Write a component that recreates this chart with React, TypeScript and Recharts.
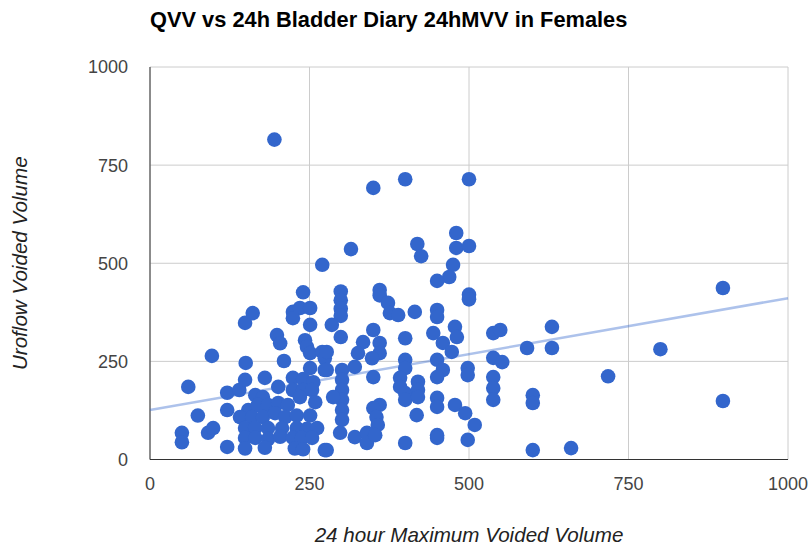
import {
  ScatterChart,
  Scatter,
  XAxis,
  YAxis,
  CartesianGrid
} from "recharts";

// 24h max voided volume (bladder diary) per patient
const mvv24h = [
  60, 97, 75, 50, 50, 91, 99, 121, 121, 121, 140, 149, 161, 150,
  240, 224, 235, 251, 224, 251, 199, 204, 243, 246,
  251, 270, 274, 210, 251, 274, 149, 180, 201,
  224, 240, 256, 224, 240, 254, 259, 235, 165, 177, 154,
  169, 185, 201, 216,
  141, 160, 177, 196, 212, 230, 251,
  149, 165, 185, 207, 230, 246, 262,
  149, 165, 185, 204, 224, 238, 254,
  149, 180, 227, 240, 274,
  299, 299, 299, 299, 299,
  301, 301, 301, 301, 301, 301, 298, 285, 287, 277, 277, 277,
  360, 360, 373, 376, 389, 415,
  350, 334, 360, 360, 400, 326, 348, 321, 400, 400,
  350, 392, 392, 400, 400,
  420, 420, 420, 418,
  360, 350, 355, 357,
  321, 340, 340, 353, 400,
  195, 350, 400, 500, 315, 419, 425, 480, 480, 500, 475, 469, 450, 270,
  500, 500, 450, 450, 444, 478, 481, 459, 473, 538, 549,
  450, 459, 450, 498, 498, 538, 552, 538, 538, 538,
  450, 450, 478, 494, 509, 450, 450, 498,
  591, 630, 630, 600, 600, 600, 660, 718, 800, 898, 898
];

// uroflow voided volume per patient
const uroflowVV = [
  185, 264, 112, 68, 44, 68, 80, 32, 170, 126, 177, 348, 373, 246,
  426, 376, 386, 386, 360, 343, 317, 296, 304, 287,
  271, 274, 258, 251, 233, 228, 203, 208, 185,
  208, 205, 197, 177, 177, 177, 146, 159, 164, 159, 126,
  139, 139, 144, 139,
  108, 108, 108, 118, 108, 112, 112,
  80, 80, 80, 80, 80, 78, 80,
  55, 55, 52, 58, 55, 55, 55,
  28, 30, 28, 26, 24,
  428, 406, 384, 366, 312,
  228, 203, 177, 152, 126, 101, 68, 343, 159, 274, 228, 24,
  432, 418, 399, 373, 368, 376,
  330, 299, 297, 271, 309, 271, 258, 236, 254, 233,
  210, 208, 185, 169, 152,
  198, 177, 159, 113,
  139, 131, 108, 88,
  57, 68, 42, 62, 42,
  815, 692, 714, 714, 536, 549, 518, 577, 539, 544, 496, 465, 455, 496,
  420, 408, 381, 363, 322, 338, 312, 297, 274, 322, 330,
  254, 228, 210, 233, 215, 259, 248, 210, 182, 152,
  157, 134, 139, 118, 88, 62, 55, 50,
  284, 338, 284, 164, 144, 24, 29, 212, 281, 437, 149
];

const points = mvv24h.map((x, i) => ({ x, y: uroflowVV[i] }));

const xTicks = [0, 250, 500, 750, 1000];
const yTicks = [0, 250, 500, 750, 1000];

// linear trendline
const trendIntercept = 126;
const trendSlope = 0.285;
const trend = [
  { x: 0, y: trendIntercept },
  { x: 1000, y: trendIntercept + trendSlope * 1000 }
];

const font = "Arial, 'Liberation Sans', sans-serif";

const Dot = (props: any) => (
  <circle cx={props.cx} cy={props.cy} r={7.3} fill="#3366cc" />
);

export default function App() {
  return (
    <div style={{ position: "absolute", left: 0, top: 0, width: 812, height: 550, background: "#fff", fontFamily: font }}>
      <div
        style={{
          position: "absolute",
          left: 150,
          top: 7,
          fontSize: 21.8,
          fontWeight: "bold",
          color: "#000",
          whiteSpace: "nowrap",
          lineHeight: "26px"
        }}
      >
        QVV vs 24h Bladder Diary 24hMVV in Females
      </div>
      <ScatterChart
        width={812}
        height={550}
        margin={{ top: 67, right: 24, left: 90, bottom: 60.5 }}
      >
        <CartesianGrid stroke="#cccccc" />
        <XAxis
          type="number"
          dataKey="x"
          domain={[0, 1000]}
          ticks={xTicks}
          height={30}
          tickLine={false}
          tickSize={16}
          axisLine={{ stroke: "#333333" }}
          tick={{ fill: "#444444", fontSize: 18, fontFamily: font }}
          label={{
            value: "24 hour Maximum Voided Volume",
            position: "bottom",
            offset: 38,
            style: { fill: "#222222", fontSize: 20.6, fontStyle: "italic", fontFamily: font }
          }}
        />
        <YAxis
          type="number"
          dataKey="y"
          domain={[0, 1000]}
          ticks={yTicks}
          width={60}
          tickLine={false}
          tickSize={20}
          axisLine={{ stroke: "#333333" }}
          tick={{ fill: "#444444", fontSize: 18, fontFamily: font }}
          label={{
            value: "Uroflow Voided Volume",
            angle: -90,
            position: "insideLeft",
            offset: -70,
            style: { fill: "#222222", fontSize: 20.6, fontStyle: "italic", fontFamily: font, textAnchor: "middle" }
          }}
        />
        <Scatter
          data={trend}
          line={{ stroke: "#3366cc", strokeOpacity: 0.4, strokeWidth: 2.5 }}
          shape={() => <g />}
          isAnimationActive={false}
        />
        <Scatter data={points} shape={Dot} isAnimationActive={false} />
      </ScatterChart>
    </div>
  );
}
